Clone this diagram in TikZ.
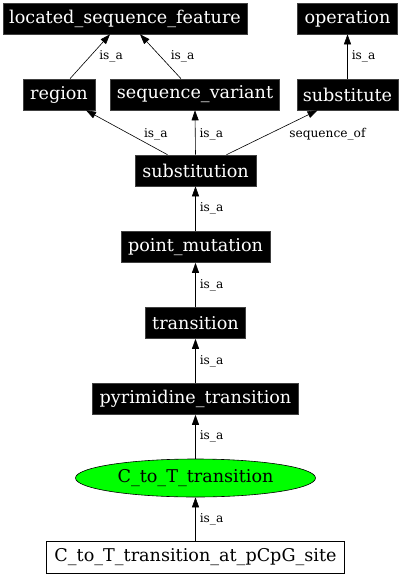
\documentclass[tikz,border=0pt]{standalone}
\usepackage{fontspec}
\setmainfont{DejaVu Serif}
\usetikzlibrary{arrows.meta,shapes.geometric}
\begin{document}
\begin{tikzpicture}[x=1pt,y=-1pt,
  term/.style={rectangle,fill=black,draw=black!75,line width=0.6pt,text=white,
    font=\fontsize{17.6}{20}\selectfont,minimum height=31pt,inner sep=0pt},
  edge/.style={draw=black,line width=0.6pt,-{Triangle[length=10pt,width=7pt]}},
  lbl/.style={font=\fontsize{12.2}{14}\selectfont,inner sep=0pt,anchor=west}
]
\useasboundingbox (0,0) rectangle (402,576);
% nodes
\node[term,minimum width=244pt] (lsf) at (125,18.5) {located\_sequence\_feature};
\node[term,minimum width=100pt] (op) at (347.5,18.5) {operation};
\node[term,minimum width=72pt] (region) at (59,94.5) {region};
\node[term,minimum width=169pt] (sv) at (195,94.5) {sequence\_variant};
\node[term,minimum width=101pt] (sub) at (347.5,94.5) {substitute};
\node[term,minimum width=121pt] (substitution) at (195.5,170.5) {substitution};
\node[term,minimum width=149pt] (pm) at (195.5,247) {point\_mutation};
\node[term,minimum width=100pt] (tr) at (195.5,323) {transition};
\node[term,minimum width=206pt] (pt) at (195.5,399) {pyrimidine\_transition};
\node[ellipse,fill=green,draw=black,line width=0.6pt,minimum width=240pt,minimum height=38pt,inner sep=0pt,
  font=\fontsize{17.6}{20}\selectfont] (ct) at (195.5,478) {C\_to\_T\_transition};
\node[rectangle,draw=black,line width=0.6pt,minimum width=298pt,minimum height=32pt,inner sep=0pt,
  font=\fontsize{17.6}{20}\selectfont] (ctp) at (195.5,557) {C\_to\_T\_transition\_at\_pCpG\_site};
% edges
\draw[edge] ([xshift=11pt]region.north) -- node[lbl,xshift=9pt] (l1) {is\_a} ([xshift=-15pt]lsf.south);
\draw[edge] ([xshift=-14pt]sv.north) -- node[lbl,xshift=10pt] (l2) {is\_a} ([xshift=15pt]lsf.south);
\draw[edge] (sub.north) -- node[lbl,xshift=4pt] (l3) {is\_a} (op.south);
\draw[edge] ([xshift=-28pt]substitution.north) -- node[lbl,xshift=17pt,yshift=-2pt] (l4) {is\_a} ([xshift=27pt]region.south);
\draw[edge] (substitution.north) -- node[lbl,xshift=4pt,yshift=-2pt] (l5) {is\_a} (sv.south);
\draw[edge] ([xshift=31pt]substitution.north) -- node[lbl,xshift=17pt,yshift=-2pt] (l6) {sequence\_of} ([xshift=-30pt]sub.south);
\draw[edge] (pm.north) -- node[lbl,xshift=4pt] (l7) {is\_a} (substitution.south);
\draw[edge] (tr.north) -- node[lbl,xshift=4pt] (l8) {is\_a} (pm.south);
\draw[edge] (pt.north) -- node[lbl,xshift=4pt] (l9) {is\_a} (tr.south);
\draw[edge] (ct.north) -- node[lbl,xshift=4pt] (l10) {is\_a} (pt.south);
\draw[edge] (ctp.north) -- node[lbl,xshift=4pt] (l11) {is\_a} (ct.south);
\end{tikzpicture}
\end{document}
